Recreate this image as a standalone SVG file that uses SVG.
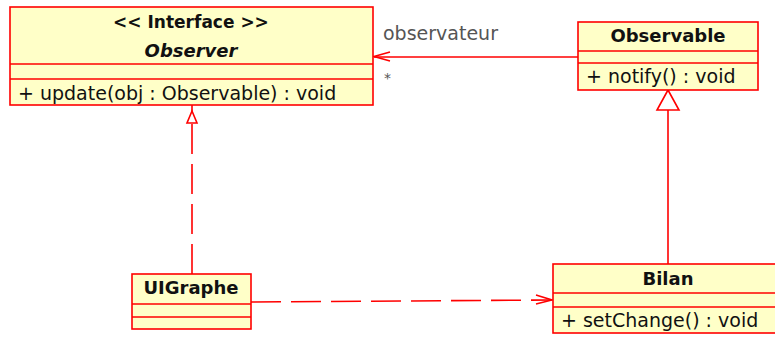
<svg xmlns="http://www.w3.org/2000/svg" width="775" height="337" viewBox="0 0 775 337">
<style>
.box{fill:#ffffc8;stroke:#ff0000;stroke-width:1.6}
.ln{stroke:#ff0000;stroke-width:1.6;fill:none}
.t{font-family:"DejaVu Sans",sans-serif;font-size:19px;fill:#111}
.b{font-weight:bold;text-anchor:middle;font-size:18px}
.i{font-style:italic}
.lbl{font-family:"DejaVu Sans",sans-serif;font-size:19px;fill:#555}
.dash{stroke-dasharray:30 10}
</style>
<rect width="775" height="337" fill="#ffffff"/>
<g id="connectors">
<line class="ln" x1="578" y1="57" x2="374" y2="57"/>
<polyline class="ln" points="390,52 374,56.5 390,61"/>
<line class="ln" x1="668" y1="264" x2="668" y2="110"/>
<polygon class="ln" fill="#ffffff" points="668,90 657,110 679,110"/>
<line class="ln dash" x1="192" y1="274" x2="192" y2="123"/>
<line class="ln" x1="192" y1="105" x2="192" y2="112"/>
<polygon class="ln" fill="#ffffff" points="192,111 187,123 197,123"/>
<line class="ln dash" x1="251" y1="302" x2="552" y2="300"/>
<polyline class="ln" points="536,295 552,300 536,304"/>
<text class="lbl" x="383" y="40">observateur</text>
<text class="lbl" x="384" y="83" style="font-size:14px">*</text>
</g>
<g id="observer">
<rect class="box" x="10" y="7" width="363" height="98"/>
<line class="ln" x1="10" y1="64" x2="373" y2="64"/>
<line class="ln" x1="10" y1="79" x2="373" y2="79"/>
<text class="t b" x="191" y="28" style="font-size:17px">&lt;&lt; Interface &gt;&gt;</text>
<text class="t b i" x="191" y="57">Observer</text>
<text class="t" x="18" y="100">+ update(obj : Observable) : void</text>
</g>
<g id="observable">
<rect class="box" x="578" y="22" width="180" height="68"/>
<line class="ln" x1="578" y1="51" x2="758" y2="51"/>
<line class="ln" x1="578" y1="63" x2="758" y2="63"/>
<text class="t b" x="668" y="42">Observable</text>
<text class="t" x="586" y="83">+ notify() : void</text>
</g>
<g id="uigraphe">
<rect class="box" x="132" y="274" width="119" height="55"/>
<line class="ln" x1="132" y1="304" x2="251" y2="304"/>
<line class="ln" x1="132" y1="317" x2="251" y2="317"/>
<text class="t b" x="191" y="294">UIGraphe</text>
</g>
<g id="bilan">
<rect class="box" x="553" y="264" width="240" height="69"/>
<line class="ln" x1="553" y1="293" x2="793" y2="293"/>
<line class="ln" x1="553" y1="307" x2="793" y2="307"/>
<text class="t b" x="668" y="285">Bilan</text>
<text class="t" x="561" y="327">+ setChange() : void</text>
</g>
</svg>
